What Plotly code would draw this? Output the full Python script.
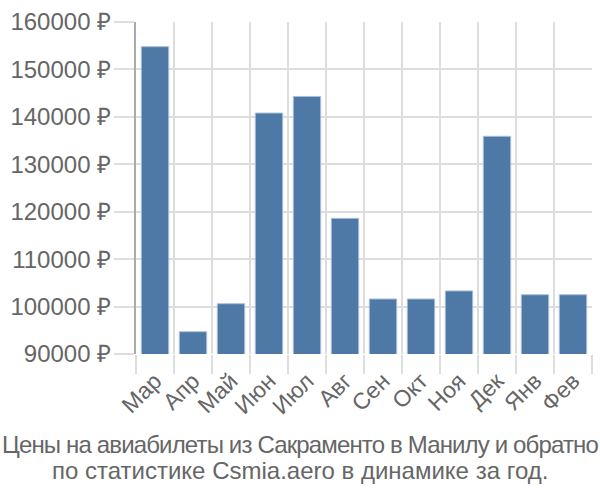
import plotly.graph_objects as go

months = ["Мар", "Апр", "Май", "Июн", "Июл", "Авг", "Сен", "Окт", "Ноя", "Дек", "Янв", "Фев"]
prices = [154800, 94700, 100600, 140800, 144300, 118600, 101600, 101600, 103300, 135900, 102500, 102500]
y_ticks = [90000, 100000, 110000, 120000, 130000, 140000, 150000, 160000]
title_lines = ["Цены на авиабилеты из Сакраменто в Манилу и обратно",
               "по статистике Csmia.aero в динамике за год."]
title_spacing = ["-0.85px", "0px"]

xpos = list(range(len(months)))

fig = go.Figure(go.Bar(
    x=xpos, y=prices,
    marker=dict(color="#4e79a7", line=dict(color="#a9bfd8", width=1)),
    width=0.72,
))

font_family = "Liberation Sans, Arial, sans-serif"
fs = 24
fig.update_layout(
    width=600, height=500,
    margin=dict(l=136, r=8, t=14, b=146),
    plot_bgcolor="white", paper_bgcolor="white",
    showlegend=False,
    font=dict(family=font_family, color="#666666"),
    xaxis=dict(
        range=[-0.5, len(months) - 0.5],
        tickmode="array", tickvals=xpos, ticktext=months,
        tickangle=-45, showgrid=False, ticks="",
        tickfont=dict(size=23, color="#666666"),
        ticklabelstandoff=8,
        showline=False, zeroline=False,
        minor=dict(tick0=-0.5, dtick=1, showgrid=True, gridcolor="#dddddd", gridwidth=2,
                   ticks="outside", ticklen=19, tickcolor="#dddddd", tickwidth=2),
    ),
    yaxis=dict(
        range=[90000, 160000],
        tickmode="array", tickvals=y_ticks,
        ticktext=[f"{v} ₽" for v in y_ticks],
        showgrid=True, gridcolor="#dddddd", gridwidth=2,
        ticks="outside", ticklen=20, tickcolor="#dddddd", tickwidth=2,
        tickfont=dict(size=fs, color="#666666"),
        ticklabelstandoff=-2,
        showline=True, linecolor="#aaaaaa", linewidth=2,
        zeroline=False,
    ),
)
title_y = [447, 473]
for line, sp, yy in zip(title_lines, title_spacing, title_y):
    fig.add_annotation(
        text=f'<span style="letter-spacing:{sp}">{line}</span>',
        x=(300 - 136) / 456, xref="paper", xanchor="center",
        y=(500 - 146 - yy) / 340, yref="paper", yanchor="middle",
        showarrow=False, font=dict(size=fs, color="#666666"),
    )
fig.write_html("out.html")
